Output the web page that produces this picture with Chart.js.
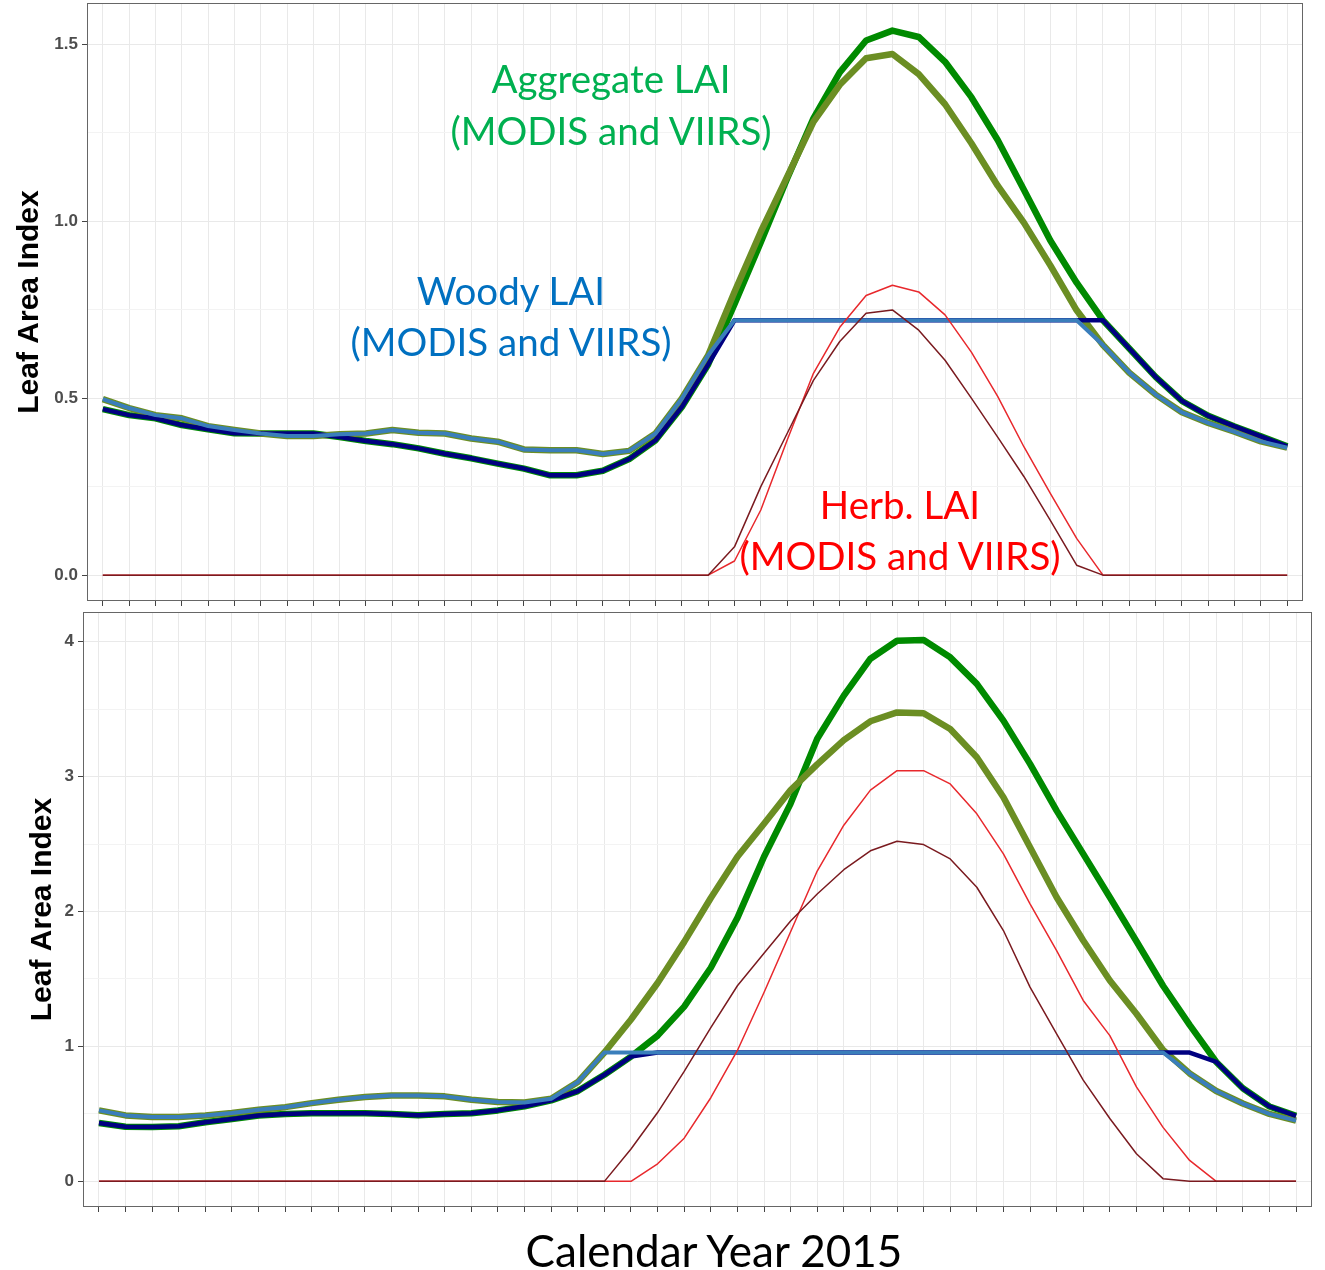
<!DOCTYPE html>
<html>
<head>
<meta charset="utf-8">
<title>Leaf Area Index 2015</title>
<script src="https://cdn.jsdelivr.net/npm/chart.js@4.4.1/dist/chart.umd.min.js"></script>
<style>
  body { margin: 0; background: #fff; }
  #page { position: relative; width: 1325px; height: 1270px; overflow: hidden; background: #fff; }
  .panel { position: absolute; left: 0; }
  #topPanel { top: 0; }
  #bottomPanel { top: 606px; }
  .note {
    position: absolute;
    transform: translate(-50%, -50%);
    white-space: nowrap;
    font-family: Lato, "Open Sans", sans-serif;
    font-size: 38.5px;
    line-height: 1;
  }
  .agg { color: #00b050; }
  .woody { color: #0070c0; }
  .herb { color: #ff0000; }
  .xtitle { color: #000; font-size: 44px; }
</style>
</head>
<body>
<div id="page">
  <canvas id="topPanel" class="panel" width="1325" height="612"></canvas>
  <canvas id="bottomPanel" class="panel" width="1325" height="664"></canvas>

  <div class="note agg" style="left:611px; top:78px;">Aggregate LAI</div>
  <div class="note agg" style="left:611px; top:130px;">(MODIS and VIIRS)</div>
  <div class="note woody" style="left:511px; top:290px;">Woody LAI</div>
  <div class="note woody" style="left:511px; top:341px;">(MODIS and VIIRS)</div>
  <div class="note herb" style="left:900px; top:504px;">Herb. LAI</div>
  <div class="note herb" style="left:900px; top:555px;">(MODIS and VIIRS)</div>
  <div class="note xtitle" style="left:714px; top:1250px;">Calendar Year 2015</div>
</div>

<script>
// 8-day composite start days (day of year), 46 per year
const compositeDays = [
  1, 9, 17, 25, 33, 41, 49, 57, 65, 73, 81, 89, 97, 105, 113, 121,
  129, 137, 145, 153, 161, 169, 177, 185, 193, 201, 209, 217, 225, 233, 241, 249,
  257, 265, 273, 281, 289, 297, 305, 313, 321, 329, 337, 345, 353, 361
];

// ---- top panel ----
const topAggModis = [
  0.469, 0.452, 0.443, 0.424, 0.412, 0.401, 0.400, 0.400, 0.400, 0.390, 0.379, 0.370,
  0.358, 0.343, 0.330, 0.315, 0.301, 0.282, 0.282, 0.295, 0.328, 0.381, 0.475, 0.595,
  0.765, 0.940, 1.120, 1.290, 1.420, 1.510, 1.538, 1.520, 1.450, 1.350, 1.229, 1.088,
  0.945, 0.826, 0.720, 0.640, 0.560, 0.492, 0.450, 0.420, 0.392, 0.364
];
const topAggViirs = [
  0.497, 0.472, 0.452, 0.443, 0.421, 0.410, 0.400, 0.393, 0.393, 0.398, 0.400, 0.410,
  0.402, 0.400, 0.386, 0.377, 0.355, 0.353, 0.353, 0.342, 0.351, 0.400, 0.499, 0.621,
  0.800, 0.970, 1.125, 1.280, 1.385, 1.460, 1.472, 1.415, 1.330, 1.220, 1.100, 0.995,
  0.875, 0.748, 0.650, 0.572, 0.510, 0.460, 0.430, 0.405, 0.378, 0.360
];
const topWoodyModis = [
  0.469, 0.452, 0.443, 0.424, 0.412, 0.401, 0.400, 0.400, 0.400, 0.390, 0.379, 0.370,
  0.358, 0.343, 0.330, 0.315, 0.301, 0.282, 0.282, 0.295, 0.328, 0.381, 0.475, 0.595,
  0.720, 0.720, 0.720, 0.720, 0.720, 0.720, 0.720, 0.720, 0.720, 0.720, 0.720, 0.720,
  0.720, 0.720, 0.720, 0.640, 0.560, 0.492, 0.450, 0.420, 0.392, 0.364
];
const topWoodyViirs = [
  0.497, 0.472, 0.452, 0.443, 0.421, 0.410, 0.400, 0.393, 0.393, 0.398, 0.400, 0.410,
  0.402, 0.400, 0.386, 0.377, 0.355, 0.353, 0.353, 0.342, 0.351, 0.400, 0.499, 0.621,
  0.720, 0.720, 0.720, 0.720, 0.720, 0.720, 0.720, 0.720, 0.720, 0.720, 0.720, 0.720,
  0.720, 0.720, 0.650, 0.572, 0.510, 0.460, 0.430, 0.405, 0.378, 0.360
];
const topHerbModis = [
  0, 0, 0, 0, 0, 0, 0, 0, 0, 0, 0, 0,
  0, 0, 0, 0, 0, 0, 0, 0, 0, 0, 0, 0,
  0.040, 0.184, 0.381, 0.570, 0.700, 0.790, 0.819, 0.800, 0.735, 0.630, 0.505, 0.362,
  0.231, 0.104, 0, 0, 0, 0, 0, 0, 0, 0
];
const topHerbViirs = [
  0, 0, 0, 0, 0, 0, 0, 0, 0, 0, 0, 0,
  0, 0, 0, 0, 0, 0, 0, 0, 0, 0, 0, 0,
  0.080, 0.250, 0.400, 0.550, 0.660, 0.740, 0.749, 0.692, 0.607, 0.500, 0.390, 0.278,
  0.155, 0.028, 0, 0, 0, 0, 0, 0, 0, 0
];
const topYTicks = [0, 0.25, 0.5, 0.75, 1, 1.25, 1.5];

// ---- bottom panel ----
const bottomAggModis = [
  0.432, 0.405, 0.403, 0.408, 0.438, 0.462, 0.488, 0.500, 0.505, 0.505, 0.505, 0.500,
  0.490, 0.500, 0.505, 0.526, 0.556, 0.600, 0.669, 0.790, 0.925, 1.080, 1.295, 1.583,
  1.953, 2.406, 2.800, 3.280, 3.600, 3.874, 4.007, 4.012, 3.884, 3.687, 3.415, 3.094,
  2.748, 2.427, 2.106, 1.780, 1.450, 1.160, 0.885, 0.690, 0.555, 0.485
];
const bottomAggViirs = [
  0.526, 0.489, 0.477, 0.477, 0.489, 0.506, 0.531, 0.550, 0.580, 0.605, 0.625, 0.637,
  0.637, 0.630, 0.605, 0.588, 0.585, 0.612, 0.736, 0.955, 1.200, 1.470, 1.775, 2.100,
  2.406, 2.650, 2.900, 3.090, 3.270, 3.410, 3.476, 3.470, 3.353, 3.143, 2.847, 2.477,
  2.106, 1.785, 1.489, 1.242, 0.975, 0.800, 0.670, 0.577, 0.500, 0.450
];
const bottomWoodyModis = [
  0.432, 0.405, 0.403, 0.408, 0.438, 0.462, 0.488, 0.500, 0.505, 0.505, 0.505, 0.500,
  0.490, 0.500, 0.505, 0.526, 0.556, 0.600, 0.669, 0.790, 0.925, 0.955, 0.955, 0.955,
  0.955, 0.955, 0.955, 0.955, 0.955, 0.955, 0.955, 0.955, 0.955, 0.955, 0.955, 0.955,
  0.955, 0.955, 0.955, 0.955, 0.955, 0.955, 0.885, 0.690, 0.555, 0.485
];
const bottomWoodyViirs = [
  0.526, 0.489, 0.477, 0.477, 0.489, 0.506, 0.531, 0.550, 0.580, 0.605, 0.625, 0.637,
  0.637, 0.630, 0.605, 0.588, 0.585, 0.612, 0.736, 0.955, 0.955, 0.955, 0.955, 0.955,
  0.955, 0.955, 0.955, 0.955, 0.955, 0.955, 0.955, 0.955, 0.955, 0.955, 0.955, 0.955,
  0.955, 0.955, 0.955, 0.955, 0.955, 0.800, 0.670, 0.577, 0.500, 0.450
];
const bottomHerbModis = [
  0, 0, 0, 0, 0, 0, 0, 0, 0, 0, 0, 0,
  0, 0, 0, 0, 0, 0, 0, 0, 0, 0.130, 0.320, 0.620,
  0.970, 1.400, 1.850, 2.300, 2.640, 2.900, 3.044, 3.044, 2.946, 2.724, 2.427, 2.057,
  1.710, 1.341, 1.080, 0.700, 0.400, 0.155, 0, 0, 0, 0
];
const bottomHerbViirs = [
  0, 0, 0, 0, 0, 0, 0, 0, 0, 0, 0, 0,
  0, 0, 0, 0, 0, 0, 0, 0, 0.240, 0.510, 0.815, 1.140,
  1.450, 1.690, 1.930, 2.130, 2.310, 2.450, 2.521, 2.496, 2.390, 2.180, 1.859, 1.440,
  1.094, 0.750, 0.466, 0.205, 0.020, 0, 0, 0, 0, 0
];
const bottomYTicks = [0, 0.5, 1, 1.5, 2, 2.5, 3, 3.5, 4];

// line styles: aggregate thick, woody medium, herb thin
const colors = {
  aggModis: '#008a00', aggViirs: '#6b8e23',
  woodyModis: '#000080', woodyViirs: '#3a7ebb',
  herbModis: '#e8282c', herbViirs: '#7a1a1f'
};

function series(values, color, width, order) {
  return {
    data: values,
    borderColor: color,
    borderWidth: width,
    pointRadius: 0,
    tension: 0,
    fill: false,
    order: order,
    borderJoinStyle: 'round'
  };
}

const panelBorder = {
  id: 'panelBorder',
  afterDraw(chart) {
    const { ctx, chartArea: a } = chart;
    ctx.save();
    ctx.strokeStyle = '#666';
    ctx.lineWidth = 1;
    ctx.strokeRect(a.left + 0.5, a.top + 0.5, a.width - 1, a.height - 1);
    ctx.restore();
  }
};

function makePanel(id, sets, yTicks, yMin, yMax, major, fmt, box) {
  return new Chart(document.getElementById(id), {
    type: 'line',
    data: {
      labels: compositeDays,
      datasets: [
        series(sets[0], colors.aggModis, 6.5, 6),
        series(sets[1], colors.aggViirs, 6.5, 5),
        series(sets[2], colors.woodyModis, 4.5, 4),
        series(sets[3], colors.woodyViirs, 4, 3),
        series(sets[4], colors.herbModis, 1.5, 2),
        series(sets[5], colors.herbViirs, 1.5, 1)
      ]
    },
    options: {
      responsive: false,
      animation: false,
      events: [],
      layout: { padding: { top: box.top, right: box.right, left: 0, bottom: 0 } },
      plugins: { legend: { display: false }, tooltip: { enabled: false } },
      scales: {
        x: {
          type: 'linear',
          min: -3.8,
          max: 365.8,
          afterBuildTicks: s => { s.ticks = compositeDays.map(v => ({ value: v })); },
          afterFit: s => {
            s.height = box.xHeight;
            s.paddingLeft = 0;
            s.paddingRight = 0;
          },
          ticks: { display: false },
          grid: { color: '#e9e9e9', lineWidth: 1, drawTicks: true, tickLength: 5, tickColor: '#444' },
          border: { display: false }
        },
        y: {
          min: yMin,
          max: yMax,
          afterBuildTicks: s => { s.ticks = yTicks.map(v => ({ value: v })); },
          afterFit: s => {
            s.width = box.yWidth;
            s.paddingTop = 0;
            s.paddingBottom = 0;
          },
          ticks: {
            callback: v => major(v) ? fmt(v) : '',
            color: '#4d4d4d',
            padding: 4,
            font: { family: '"Liberation Sans", Arial, sans-serif', size: 17, weight: 'bold' }
          },
          grid: {
            color: c => major(c.tick.value) ? '#e9e9e9' : '#f3f3f3',
            lineWidth: 1,
            tickLength: 5,
            tickColor: c => major(c.tick.value) ? '#444' : 'rgba(0,0,0,0)'
          },
          border: { display: false },
          title: {
            display: true,
            text: 'Leaf Area Index',
            color: '#000',
            padding: { top: box.titlePad, bottom: 0 },
            font: { family: '"Liberation Sans", Arial, sans-serif', size: 30, weight: 'bold', lineHeight: 1 }
          }
        }
      }
    },
    plugins: [panelBorder]
  });
}

makePanel('topPanel',
  [topAggModis, topAggViirs, topWoodyModis, topWoodyViirs, topHerbModis, topHerbViirs],
  topYTicks, -0.073, 1.616,
  v => Number.isInteger(v * 2), v => v.toFixed(1),
  { top: 3, right: 22, xHeight: 11, yWidth: 87, titlePad: 15 });

makePanel('bottomPanel',
  [bottomAggModis, bottomAggViirs, bottomWoodyModis, bottomWoodyViirs, bottomHerbModis, bottomHerbViirs],
  bottomYTicks, -0.19, 4.22,
  v => Number.isInteger(v), v => String(v),
  { top: 6, right: 13, xHeight: 63, yWidth: 83, titlePad: 28 });
</script>
</body>
</html>
